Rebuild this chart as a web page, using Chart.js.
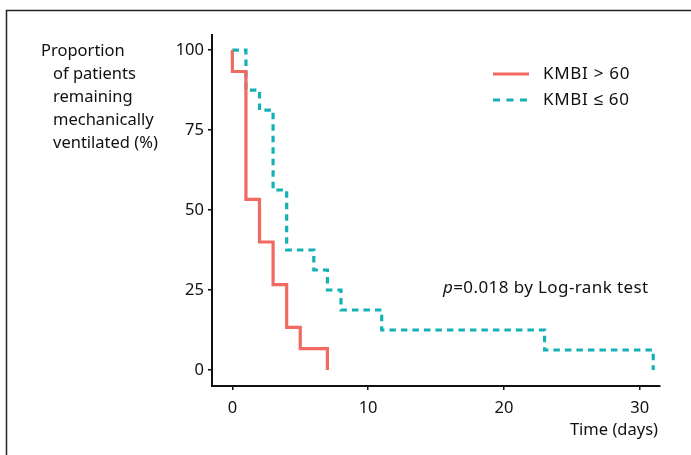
<!DOCTYPE html>
<html>
<head>
<meta charset="utf-8">
<script src="https://cdn.jsdelivr.net/npm/chart.js@4/dist/chart.umd.min.js"></script>
<style>
  body { margin: 0; background: #fff; }
  canvas { display: block; }
</style>
</head>
<body>
<canvas id="kmChart" width="691" height="455"></canvas>
<script>
// curva KMBI > 60
const highTimes = [0, 0, 1, 2, 3, 4, 5, 7];
const highSurv = [100, 93.3, 53.3, 40, 26.7, 13.3, 6.7, 0];
// curva KMBI <= 60
const lowTimes = [0, 1, 2, 3, 4, 6, 7, 8, 11, 23, 31];
const lowSurv = [100, 87.5, 81.25, 56.25, 37.5, 31.25, 25, 18.75, 12.5, 6.25, 0];

const xTicks = [0, 10, 20, 30];
const yTicks = [0, 25, 50, 75, 100];
const seriesNames = ['KMBI > 60', 'KMBI \u2264 60'];
const yTitleLines = ['Proportion', 'of patients', 'remaining', 'mechanically', 'ventilated (%)'];

const RED = '#F06A62';
const TEAL = '#14B2B4';
const FONT = '"Noto Sans", sans-serif';

const toPoints = (t, s) => t.map((x, i) => ({ x: x, y: s[i] }));

// desenha moldura, titulo do eixo y, legenda e anotacao
const extras = {
  id: 'extras',
  afterDraw(chart) {
    const c = chart.ctx;
    c.save();
    // moldura (só topo e esquerda)
    c.strokeStyle = '#222';
    c.lineWidth = 1.5;
    c.beginPath();
    c.moveTo(6.5, 455);
    c.lineTo(6.5, 10.5);
    c.lineTo(691, 10.5);
    c.stroke();

    c.fillStyle = '#111';
    c.font = '16.5px ' + FONT;
    c.textBaseline = 'middle';
    c.textAlign = 'left';
    yTitleLines.forEach((l, i) => {
      c.fillText(l, i === 0 ? 41 : 53, 51 + i * 23);
    });

    // legenda
    c.lineWidth = 3.2;
    c.strokeStyle = RED;
    c.beginPath(); c.moveTo(493, 74); c.lineTo(529, 74); c.stroke();
    c.strokeStyle = TEAL;
    c.setLineDash([7, 6.5]);
    c.beginPath(); c.moveTo(493, 100); c.lineTo(529, 100); c.stroke();
    c.setLineDash([]);
    c.font = '17px ' + FONT;
    c.letterSpacing = '0.7px';
    c.fillText(seriesNames[0], 543, 74);
    c.fillText(seriesNames[1], 543, 100);

    // p-valor
    c.letterSpacing = '0.4px';
    c.font = 'italic 17px ' + FONT;
    c.fillText('p', 443, 288);
    const pw = c.measureText('p').width;
    c.font = '17px ' + FONT;
    c.fillText('=0.018 by Log-rank test', 443 + pw, 288);

    // titulo eixo x
    c.letterSpacing = '0px';
    c.font = '16.5px ' + FONT;
    c.textAlign = 'right';
    c.fillText('Time (days)', 658, 430);
    c.restore();
  }
};

const ctx = document.getElementById('kmChart').getContext('2d');
new Chart(ctx, {
  type: 'line',
  data: {
    datasets: [
      {
        label: seriesNames[0],
        data: toPoints(highTimes, highSurv),
        borderColor: RED,
        borderWidth: 3.2,
        stepped: 'before',
        pointRadius: 0,
        fill: false
      },
      {
        label: seriesNames[1],
        data: toPoints(lowTimes, lowSurv),
        borderColor: TEAL,
        borderWidth: 3.2,
        borderDash: [6.5, 5],
        stepped: 'before',
        pointRadius: 0,
        fill: false
      }
    ]
  },
  options: {
    responsive: false,
    animation: false,
    layout: { padding: { left: 0, top: 35, right: 31, bottom: 0 } },
    plugins: { legend: { display: false }, tooltip: { enabled: false } },
    scales: {
      x: {
        type: 'linear',
        min: -1.5,
        max: 31.5,
        afterBuildTicks: s => { s.ticks = xTicks.map(v => ({ value: v })); },
        afterFit: s => { s.height = 69; },
        grid: { drawOnChartArea: false, drawTicks: true, tickLength: 4, color: '#111', lineWidth: 1.5 },
        border: { display: true, color: '#111', width: 2 },
        ticks: { color: '#111', font: { family: FONT, size: 16.5 }, padding: 8, maxRotation: 0 }
      },
      y: {
        type: 'linear',
        min: -5,
        max: 104.7,
        afterBuildTicks: s => { s.ticks = yTicks.map(v => ({ value: v })); },
        afterFit: s => { s.width = 212; },
        grid: { drawOnChartArea: false, drawTicks: true, tickLength: 4, color: '#111', lineWidth: 1.5 },
        border: { display: true, color: '#111', width: 2 },
        ticks: { color: '#111', font: { family: FONT, size: 16.5 }, padding: 4 }
      }
    }
  },
  plugins: [extras]
});
</script>
</body>
</html>
